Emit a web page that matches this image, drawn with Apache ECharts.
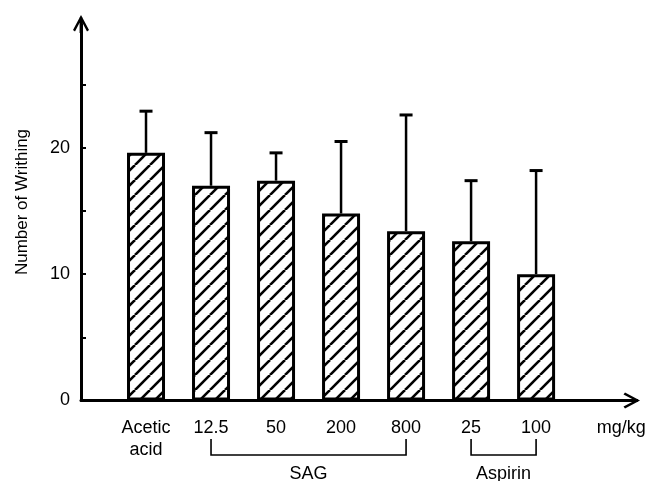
<!DOCTYPE html>
<html><head><meta charset="utf-8">
<script src="https://cdn.jsdelivr.net/npm/echarts@6/dist/echarts.min.js"></script>
<style>html,body{margin:0;padding:0;background:#fff}#c{width:650px;height:481px}</style>
</head><body><div id="c"></div>
<script>
const categories = ['Acetic\nacid', '12.5', '50', '200', '800', '25', '100'];
const unitLabel = 'mg/kg';
const meanValues = [19.6, 17.0, 17.4, 14.8, 13.4, 12.6, 10.0];
const errorTopValues = [22.9, 21.2, 19.6, 20.5, 22.6, 17.4, 18.2];
const yTickValues = [0, 5, 10, 15, 20, 25];
const yLabelValues = [0, 10, 20];
const groupLabels = ['SAG', 'Aspirin'];
const groupFrom = [2, 6];
const groupTo = [5, 7];
const yAxisTitle = 'Number of Writhing';

const FONT = 'Liberation Sans, Arial, Helvetica, sans-serif';
const unitPos = categories.length + 1.31;

// hatch pattern
const pc = document.createElement('canvas');
pc.width = 15; pc.height = 15;
const g = pc.getContext('2d');
g.fillStyle = '#fff'; g.fillRect(0, 0, 15, 15);
g.strokeStyle = '#000'; g.lineWidth = 2.6;
[-15, 0, 15].forEach(function (k) {
  g.beginPath(); g.moveTo(k, 15); g.lineTo(k + 15, 0); g.stroke();
});

const arrowPath = 'path://M8,0 L16,15 L14,16.5 L8,5 L2,16.5 L0,15 Z M6.6,2 L9.4,2 L9.4,18 L6.6,18 Z';

const barData = meanValues.map(function (v, i) { return [i + 1, v]; });
const errData = meanValues.map(function (v, i) { return [i + 1, v, errorTopValues[i]]; });

const chart = echarts.init(document.getElementById('c'));
chart.setOption({
  animation: false,
  backgroundColor: '#fff',
  grid: { left: 81, right: 19, top: 24, bottom: 80.5, containLabel: false },
  xAxis: {
    type: 'value', min: 0, max: 8.46,
    splitLine: { show: false },
    axisTick: { show: false },
    axisLine: { show: true, onZero: true, lineStyle: { color: '#000', width: 3 },
      symbol: ['none', arrowPath], symbolSize: [16, 18] },
    axisLabel: {
      customValues: categories.map(function (c, i) { return i + 1; }).concat([unitPos]),
      formatter: function (v) {
        if (Math.abs(v - unitPos) < 1e-6) return unitLabel;
        return categories[Math.round(v) - 1] || '';
      },
      color: '#000', fontSize: 18, fontFamily: FONT, lineHeight: 22.5, margin: 16,
      hideOverlap: false
    }
  },
  yAxis: {
    type: 'value', min: 0, max: 29.8,
    splitLine: { show: false },
    axisLine: { show: true, onZero: true, lineStyle: { color: '#000', width: 3 },
      symbol: ['none', arrowPath], symbolSize: [16, 18] },
    axisTick: { show: true, inside: true, length: 5, customValues: yTickValues,
      lineStyle: { color: '#000', width: 2 } },
    axisLabel: { customValues: yLabelValues, color: '#000', fontSize: 18, fontFamily: FONT, margin: 11 }
  },
  series: [
    {
      type: 'bar', data: barData, barWidth: 38, z: 2,
      itemStyle: { color: { image: pc, repeat: 'repeat' }, borderColor: '#000', borderWidth: 3 }
    },
    {
      type: 'custom', data: errData, z: 3,
      encode: { x: 0, y: [1, 2] },
      renderItem: function (params, api) {
        const x = api.value(0);
        const pBase = api.coord([x, api.value(1)]);
        const pTop = api.coord([x, api.value(2)]);
        return { type: 'group', children: [
          { type: 'line', shape: { x1: pBase[0], y1: pBase[1], x2: pTop[0], y2: pTop[1] },
            style: { stroke: '#000', lineWidth: 2.5 } },
          { type: 'line', shape: { x1: pTop[0] - 6.5, y1: pTop[1], x2: pTop[0] + 6.5, y2: pTop[1] },
            style: { stroke: '#000', lineWidth: 3 } }
        ] };
      }
    }
  ]
});

const graphics = [{
  type: 'text', x: 22, y: 202, rotation: Math.PI / 2,
  style: { text: yAxisTitle, fill: '#000', font: '17px ' + FONT, align: 'center', verticalAlign: 'middle' }
}];
groupLabels.forEach(function (name, i) {
  const a = chart.convertToPixel({ gridIndex: 0 }, [groupFrom[i], 0]);
  const b = chart.convertToPixel({ gridIndex: 0 }, [groupTo[i], 0]);
  graphics.push({
    type: 'polyline',
    shape: { points: [[a[0], 439], [a[0], 455], [b[0], 455], [b[0], 439]] },
    style: { stroke: '#000', lineWidth: 1.6, fill: null }
  });
  graphics.push({
    type: 'text', x: (a[0] + b[0]) / 2, y: 474,
    style: { text: name, fill: '#000', font: '18px ' + FONT, align: 'center', verticalAlign: 'middle' }
  });
});
chart.setOption({ graphic: graphics });
</script>
</body></html>
